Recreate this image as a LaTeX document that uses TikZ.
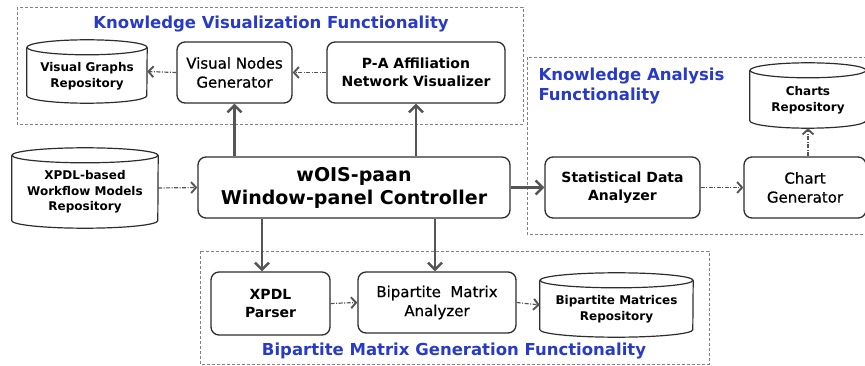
\documentclass[tikz,border=0pt]{standalone}
\usepackage{fontspec}
\setmainfont{DejaVu Sans}
\newfontfamily\medfont{DejaVu Sans}[FakeBold=0.6]
\usetikzlibrary{arrows.meta,calc}
\definecolor{ttl}{RGB}{40,58,200}
\definecolor{ln}{RGB}{45,45,45}
\definecolor{ar}{RGB}{85,85,85}
\definecolor{dbox}{RGB}{130,130,130}
\newcommand\cylshape[5]{% name, cx, cy, w, h
  \node[cylnode, minimum width=#4, minimum height=#5] (#1) at (#2,#3) {};
  \draw[cylline] ($(#1.north west)+(0,7.5)$) -- ($(#1.south west)+(0,-7.5)$)
     arc[start angle=180,end angle=0,x radius=#4/2,y radius=7.5]
     -- ($(#1.north east)+(0,7.5)$);
  \draw[cylline] ($(#1.north)+(0,7.5)$) ellipse[x radius=#4/2,y radius=7.5];
}
\begin{document}
\begin{tikzpicture}[x=1pt,y=-1pt,
  box/.style={draw=ln, line width=1.3pt, rounded corners=8pt, align=center, inner sep=0pt, fill=white},
  cylnode/.style={inner sep=0pt, align=center},
  cylline/.style={draw=ln, line width=1.2pt},
  thickarr/.style={draw=ar, line width=2.6pt, -{Straight Barb[length=7pt,width=14pt,line width=2.4pt]}},
  dasharr/.style={draw=ar, line width=1.2pt, dash pattern=on 4pt off 1.5pt on 1pt off 1.5pt, -{Straight Barb[length=5pt,width=11pt,line width=1.9pt]}},
  grp/.style={draw=dbox, line width=0.8pt, dash pattern=on 3pt off 2pt},
  ttlfont/.style={font=\fontsize{16.5}{19.5}\selectfont\bfseries, text=ttl},
  bfb/.style={font=\fontsize{14}{18}\selectfont\bfseries},
  rgb/.style={font=\fontsize{15}{19}\selectfont\medfont},
  cyt/.style={font=\fontsize{12}{15.5}\selectfont\bfseries, align=center}
]
\useasboundingbox (0,0) rectangle (865,366);
\clip (0,0) rectangle (865,366);

% group frames
\draw[grp] (17,7) rectangle (523,124);
\draw[grp] (527,57) rectangle (880,234);
\draw[grp] (200,251) rectangle (709,364);

\node[ttlfont] (tkv) at (271,24) {Knowledge Visualization Functionality};
\node[ttlfont, anchor=west, align=left] (tka) at (535,86) {Knowledge Analysis\\Functionality};
\node[ttlfont] (tbm) at (454,351) {Bipartite Matrix Generation Functionality};

% cylinders
\cylshape{vgr}{87}{71.5}{120}{63}
\node[cyt] at (87,76) {Visual Graphs\\Repository};
\cylshape{xpr}{85}{188}{146}{80}
\node[cyt] at (85,192) {XPDL-based\\Workflow Models\\Repository};
\cylshape{chr}{808}{95.5}{116}{65}
\node[cyt] at (808,100) {Charts\\Repository};
\cylshape{bmr}{616.5}{305}{153}{64}
\node[cyt] at (616.5,309) {Bipartite Matrices\\Repository};

% boxes
\node[box, rgb, minimum width=115, minimum height=61] (vng) at (234.5,72.5) {Visual Nodes\\Generator};
\node[box, bfb, minimum width=178, minimum height=61] (pav) at (416,72.5) {P-A Affiliation\\Network Visualizer};
\node[box, font=\fontsize{19}{23}\selectfont\bfseries, minimum width=312, minimum height=61] (ctl) at (354,187.5) {wOIS-paan\\Window-panel Controller};
\node[box, bfb, minimum width=155, minimum height=61] (sda) at (622.5,187.5) {Statistical Data\\Analyzer};
\node[box, rgb, minimum width=122, minimum height=61] (chg) at (805,187.5) {Chart\\Generator};
\node[box, bfb, minimum width=119, minimum height=63] (xpp) at (270.5,303.5) {XPDL\\Parser};
\node[box, rgb, minimum width=158, minimum height=61] (bma) at (437,302.5) {Bipartite~~Matrix\\Analyzer};

% connectors
\draw[dasharr] (vng.west) -- (vgr.east);
\draw[dasharr] (pav.west) -- (vng.east);
\draw[dasharr] (xpr.east) -- (ctl.west);
\draw[thickarr] (ctl.north -| vng.south) -- (vng.south);
\draw[thickarr] (ctl.north -| pav.south) -- (pav.south);
\draw[thickarr] (ctl.east) -- (sda.west);
\draw[dasharr] (sda.east) -- (chg.west);
\draw[dasharr] (chg.north -| chr.south) -- (chr.south);
\coordinate (c1) at (262,218);
\coordinate (c2) at (435,218);
\draw[thickarr] (ctl.south -| c1) -- (xpp.north -| c1);
\draw[thickarr] (ctl.south -| c2) -- (bma.north -| c2);
\draw[dasharr] (xpp.east) -- (bma.west);
\draw[dasharr] (bma.east) -- (bmr.west);
\end{tikzpicture}
\end{document}
